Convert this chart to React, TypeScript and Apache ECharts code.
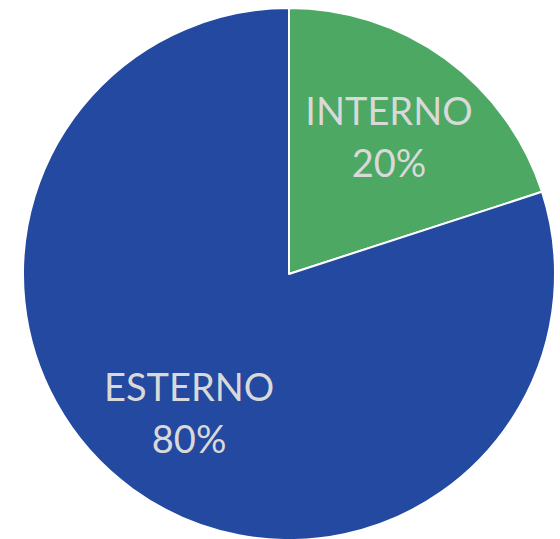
import React, { useEffect, useRef } from "react";
import * as echarts from "echarts";

const categories = ["INTERNO", "ESTERNO"];
const values = [20, 80];
const colors = ["#4DA864", "#2349A0"];

export default function App() {
  const ref = useRef<HTMLDivElement>(null);
  useEffect(() => {
    document.body.style.margin = "0";
    const chart = echarts.init(ref.current!, null, { renderer: "svg" });
    const data = categories.map((name, i) => ({
      name,
      value: values[i],
      itemStyle: { color: colors[i] },
    }));
    chart.setOption({
      animation: false,
      series: [
        {
          type: "pie",
          center: [289, 274],
          radius: [0, 266],
          startAngle: 90,
          clockwise: true,
          silent: true,
          itemStyle: { borderColor: "#ffffff", borderWidth: 2 },
          label: { show: false },
          labelLine: { show: false },
          data,
        },
        {
          type: "pie",
          center: [289, 274],
          radius: [0, 334],
          startAngle: 90,
          clockwise: true,
          silent: true,
          itemStyle: { color: "rgba(0,0,0,0)", borderWidth: 0 },
          label: {
            show: true,
            position: "inside",
            formatter: (p: any) => `${p.name}\n${p.value}%`,
            color: "#D9D9D9",
            fontFamily: "Lato",
            fontSize: 38,
            lineHeight: 52,
          },
          labelLine: { show: false },
          data: categories.map((name, i) => ({ name, value: values[i] })),
        },
      ],
    });
    return () => chart.dispose();
  }, []);
  return <div ref={ref} style={{ width: 560, height: 539 }} />;
}
